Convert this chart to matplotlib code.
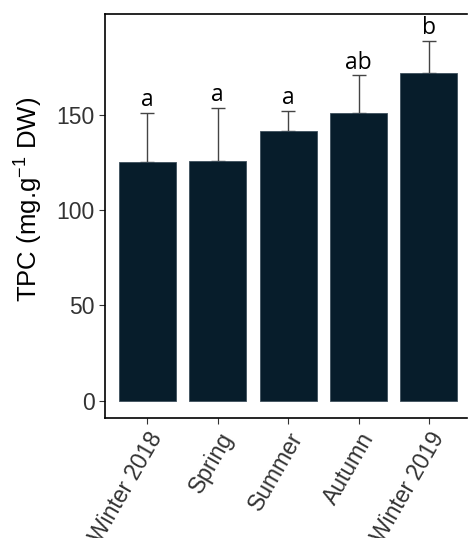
import numpy as np
import matplotlib.pyplot as plt

plt.rcParams['font.family'] = ['Liberation Sans', 'DejaVu Sans']

seasons = ['Winter 2018', 'Spring', 'Summer', 'Autumn', 'Winter 2019']
tpc_mean = [125.2, 125.6, 141.7, 151.1, 171.9]
tpc_sd = [25.9, 28.1, 10.3, 19.6, 17.0]
groups = ['a', 'a', 'a', 'ab', 'b']

fig = plt.figure(figsize=(4.68, 5.38), dpi=100)
ax = fig.add_axes([105 / 468, 1 - 418 / 538, 362 / 468, 404 / 538])

x = np.arange(len(seasons))
ax.bar(x, tpc_mean, width=0.81, color='#071d2b', edgecolor='#3d4f5c', linewidth=0.6, zorder=2)
ax.errorbar(x, tpc_mean, yerr=[np.zeros(len(x)), tpc_sd], fmt='none',
            ecolor='#444444', elinewidth=1.0, capsize=5, capthick=1.0, zorder=1)
for xi, m, s, g in zip(x, tpc_mean, tpc_sd, groups):
    ax.text(xi, m + s + 0.3, g, ha='center', va='bottom', fontsize=16.5,
            family=['Open Sans', 'DejaVu Sans'], color='black')

ax.set_xlim(-0.6, 4.54)
ax.set_ylim(-9.1, 202.9)
ax.set_yticks([0, 50, 100, 150])
ax.set_xticks(x)
ax.set_xticklabels(seasons, rotation=60, ha='right', va='top', rotation_mode='anchor')
ax.tick_params(axis='both', labelsize=16.5, labelcolor='#333333', length=4, width=0.8, color='#333333')
ax.set_ylabel('TPC (mg.g$^{\\mathregular{-1}}$ DW)', fontsize=18.5)
ax.yaxis.set_label_coords(-0.168, 0.54)

ax.spines['right'].set_visible(False)
for side in ['left', 'bottom', 'top']:
    ax.spines[side].set_linewidth(1.2)
    ax.spines[side].set_color('black')

fig.savefig('out.png', dpi=100)
